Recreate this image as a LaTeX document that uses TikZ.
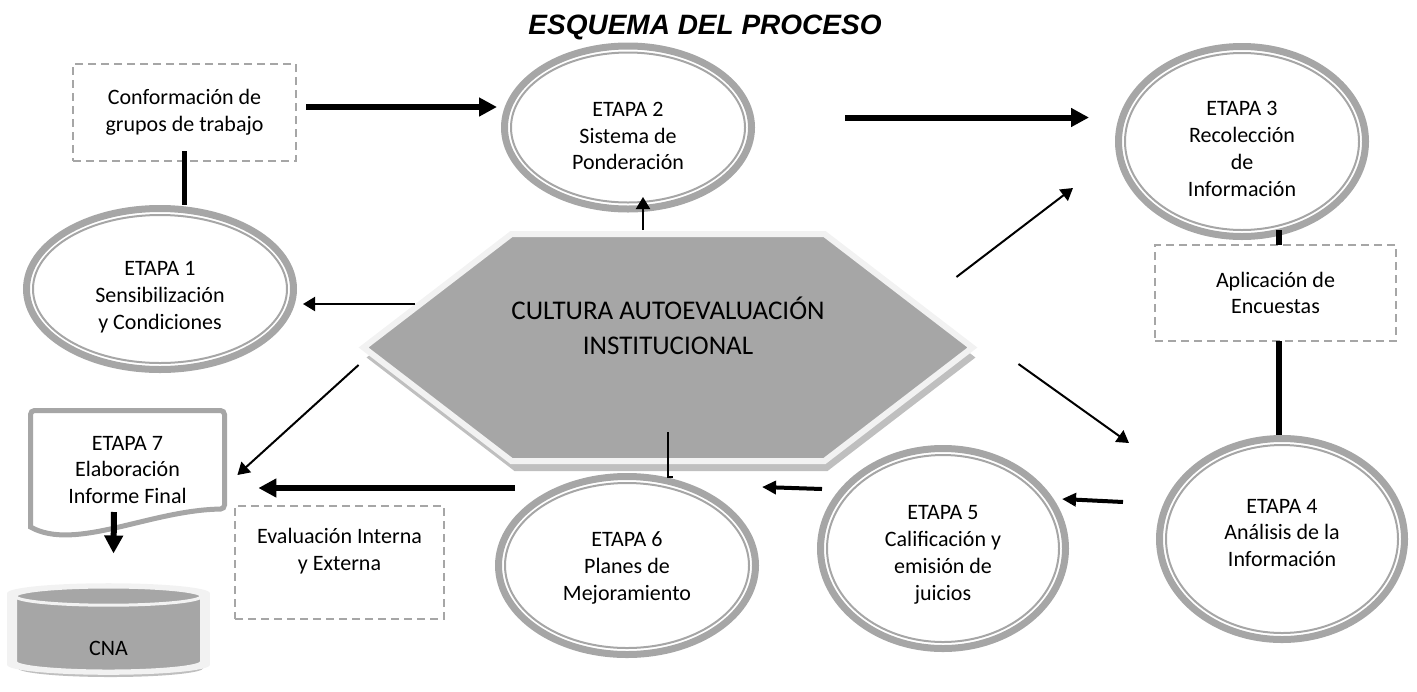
\documentclass[tikz,border=0pt]{standalone}
\usepackage{fontspec}
\setmainfont{Carlito}
\newfontfamily\titlefont{Liberation Sans}
\usetikzlibrary{arrows.meta,calc,shapes.geometric,shapes.symbols,shadows}
\definecolor{ringgray}{HTML}{A6A6A6}
\definecolor{hexlight}{HTML}{F2F2F2}

\tikzset{
  ringout/.style={draw=ringgray, line width=3.5pt},
  ringin/.style={ellipse, draw=ringgray, line width=1pt, inner sep=0pt, outer sep=0pt},
  dashbox/.style={draw=ringgray, line width=1pt, dash pattern=on 4pt off 2.5pt, inner sep=0pt, outer sep=0pt, align=center},
  link/.style={line width=2.75pt},
  bigarrow/.style={-{Triangle[length=9pt,width=9pt]}, line width=3pt},
  midarrow/.style={-{Triangle[length=7pt,width=6.5pt]}, line width=2pt},
  thinarrow/.style={-{Triangle[length=6pt,width=7pt]}, line width=1pt},
}

\begin{document}
\begin{tikzpicture}[x=0.5pt, y=-0.5pt, font=\fontsize{11}{13.4}\selectfont]
\useasboundingbox (0,0) rectangle (1417,691);

\node[anchor=base, font=\titlefont\bfseries\itshape\fontsize{14}{17}\selectfont] (title) at (705,34) {ESQUEMA DEL PROCESO};

% centro
\node[signal, signal to=west and east, signal pointer angle=75, fill=ringgray, draw=hexlight, line width=3pt,
  minimum width=300pt, minimum height=113.5pt, inner sep=0pt, outer sep=0pt, align=center,
  font=\fontsize{13.5}{17.5}\selectfont,
  drop shadow={shadow xshift=1.5pt, shadow yshift=-5pt, fill=black!25, opacity=1}]
  (hex) at (668,347.5) {CULTURA AUTOEVALUACIÓN\\INSTITUCIONAL\\[4.5pt]\mbox{}};

% etapas
\foreach \n/\x/\y/\rx/\ry/\dy/\txt in {
  e1/160/289/137/84/-4pt/{ETAPA 1\\Sensibilización\\y Condiciones},
  e2/628/127.5/127/85/-4.25pt/{ETAPA 2\\Sistema de\\Ponderación},
  e3/1242/141.5/127/98.5/-3.75pt/{ETAPA 3\\Recolección\\de\\Información},
  e4/1282/539/126/104/3pt/{ETAPA 4\\Análisis de la\\Información},
  e5/943/548.5/126/103.5/-3.25pt/{ETAPA 5\\Calificación y\\emisión de\\juicios},
  e6/627/565.5/132/92.5/-1.25pt/{ETAPA 6\\Planes de\\Mejoramiento}}
{
  \draw[ringout] (\x,\y) ellipse [x radius=\rx-3.5, y radius=\ry-3.5];
  \node[ringin, minimum width={(\rx-10)*1pt}, minimum height={(\ry-10)*1pt},
    label={[align=center, yshift=\dy]center:{\txt}}] (\n) at (\x,\y) {};
}

% informe final y CNA
\draw[ringgray, line width=2.5pt, fill=white] (30.5,527) [rounded corners=2pt] -- (30.5,410.5) -- (224.5,410.5) -- (224.5,509)
  [sharp corners] .. controls (150,510) and (75,552) .. (30.5,527) -- cycle;
\node[minimum width=96.5pt, align=center] (e7) at (127.5,470) {ETAPA 7\\Elaboración\\Informe Final};
\node[cylinder, shape border rotate=90, aspect=0.35, fill=ringgray, draw=hexlight, line width=1.5pt,
  minimum width=93pt, minimum height=42pt, align=center,
  drop shadow={shadow xshift=1pt, shadow yshift=-3pt, fill=black!25, opacity=1},
  general shadow={fill=hexlight, shadow scale=1.09}] (cna) at (108.5,636) {\mbox{}\\[6pt]CNA};

% cajas
\node[dashbox, minimum width=111.5pt, minimum height=48.5pt] (box1) at (184.5,112.5) {Conformación de\\grupos de trabajo};
\node[dashbox, minimum width=120.5pt, minimum height=48pt] (box2) at (1275.5,293) {Aplicación de\\Encuestas};
\node[dashbox, minimum width=104.5pt, minimum height=56.5pt] (box3) at (339.5,562.5) {Evaluación Interna\\y Externa\\\mbox{}};

% conectores
\draw[link, shorten >=5pt] ([yshift=5pt]box1.south) -- (box1.south |- e1.north);
\draw[link] ([xshift=1.75pt]box2.north) -- ([xshift=1.75pt]box2.north |- e3.south);
\draw[link, shorten >=5pt] ([xshift=1.75pt]box2.south) -- ([xshift=1.75pt]box2.south |- e4.north);
\draw[bigarrow, shorten >=7pt] ([shift={(5pt,2.75pt)}]box1.east) -- ([yshift=2.75pt]box1.east -| e2.west);
\draw[bigarrow, shorten >=18pt] ([shift={(50pt,5pt)}]e2.east) -- ([yshift=5pt]e2.east -| e3.west);
\draw[bigarrow] ($(e6.west)+(10,-77.5)$) -- ($(e7.east)+(34,18)$);
\draw[bigarrow] ($(e7.center)+(-13.5,42)$) -- ($(cna.north)+(5,-32)$);
\draw[midarrow] ($(e4.west)+(-43,-37)$) -- ($(e5.east)+(3,-49.5)$);
\draw[midarrow] ($(e5.west)+(-5,-59.5)$) -- ($(e6.east)+(13,-78.5)$);
\draw[thinarrow, shorten >=-2.75pt] ([shift={(-12.5pt,2pt)}]hex.north) -- ([xshift=-12.5pt]hex.north |- e2.south);
\draw[thinarrow] ($(e1.east)+(128,15)$) -- ($(e1.east)+(16,15)$);
\draw[thinarrow] ($(hex.west)+(-5,17.5)$) -- ($(e7.east)+(13,5)$);
\draw[thinarrow] ($(hex.east)+(-16,-70.5)$) -- ($(e3.west)+(-52,46.5)$);
\draw[thinarrow] ($(hex.east)+(46,16.5)$) -- ($(e4.west)+(-37,-96)$);
\draw[line width=1pt] ($(hex.south)+(0,-29)$) |- ($(e6.north)+(46,-6)$);

\end{tikzpicture}
\end{document}
